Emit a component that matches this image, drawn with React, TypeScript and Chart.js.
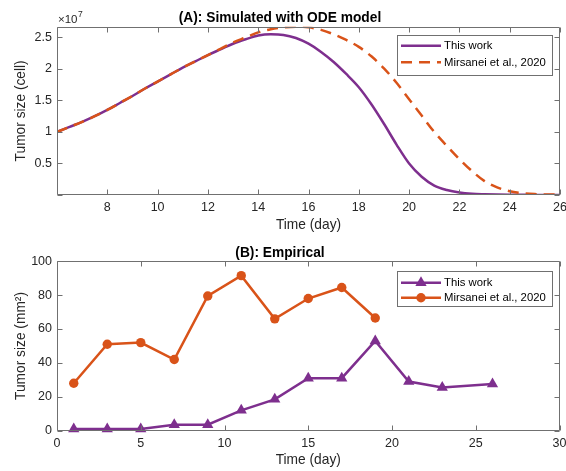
import React, { useEffect, useRef } from 'react';
import { Chart, registerables } from 'chart.js';

Chart.register(...registerables);

const FONT = "'Liberation Sans', Arial, Helvetica, sans-serif";
const PURPLE = '#7E2F8E';
const ORANGE = '#D95319';
const TEXT = '#262626';
const FRAME = '#707070';

// (A) simulated tumor size, in units of 10^7 cells
const simDays = [6, 6.5, 7, 7.5, 8, 8.5, 9, 9.5, 10, 10.5, 11, 11.5, 12, 12.5, 13, 13.5, 14, 14.5, 15, 15.5, 16, 16.5, 17, 17.5, 18, 18.5, 19, 19.5, 20, 20.5, 21, 21.5, 22, 22.5, 23, 23.5, 24, 24.5, 25, 25.5, 26];
const simThisWork = [1.00, 1.08, 1.16, 1.25, 1.35, 1.46, 1.57, 1.69, 1.80, 1.91, 2.02, 2.12, 2.22, 2.31, 2.40, 2.47, 2.53, 2.55, 2.54, 2.49, 2.40, 2.27, 2.11, 1.92, 1.71, 1.44, 1.13, 0.80, 0.50, 0.29, 0.15, 0.08, 0.04, 0.02, 0.012, 0.007, 0.004, 0.003, 0.002, 0.001, 0.001];
const simMirsanei = [1.00, 1.08, 1.16, 1.25, 1.35, 1.46, 1.57, 1.69, 1.80, 1.91, 2.02, 2.12, 2.22, 2.32, 2.42, 2.50, 2.58, 2.63, 2.66, 2.67, 2.66, 2.62, 2.55, 2.46, 2.35, 2.20, 2.01, 1.78, 1.52, 1.26, 1.00, 0.78, 0.57, 0.38, 0.22, 0.12, 0.06, 0.03, 0.015, 0.008, 0.005];

// (B) empirical tumor size, mm^2
const empDaysThisWork = [1, 3, 5, 7, 9, 11, 13, 15, 17, 19, 21, 23, 26];
const empThisWork = [1, 1, 1, 3.5, 3.5, 12, 18.5, 31, 31, 53, 29, 25.5, 27.5];
const empDaysMirsanei = [1, 3, 5, 7, 9, 11, 13, 15, 17, 19];
const empMirsanei = [28, 51, 52, 42, 79.5, 91.5, 66, 78, 84.5, 66.5];

const seriesLabels = ['This work', 'Mirsanei et al., 2020'];
const titleA = '(A): Simulated with ODE model';
const titleB = '(B): Empirical';
const xTitle = 'Time (day)';
const yTitleA = 'Tumor size (cell)';
const yTitleB = 'Tumor size (mm²)';

const toPoints = (xs: number[], ys: number[]) => xs.map((x, i) => ({ x, y: ys[i] }));

const matlabFrame = {
  id: 'matlabFrame',
  afterDatasetsDraw(chart: any, _args: any, opts: any) {
    const { ctx, chartArea: a, scales } = chart;
    ctx.save();
    ctx.strokeStyle = FRAME;
    ctx.lineWidth = 1;
    const L = Math.round(a.left) + 0.5;
    const R = Math.round(a.right) - 0.5;
    const T = Math.round(a.top) + 0.5;
    const B = Math.round(a.bottom) - 0.5;
    ctx.beginPath();
    ctx.rect(L, T, R - L, B - T);
    const len = 5;
    scales.x.ticks.forEach((t: any) => {
      const x = Math.round(scales.x.getPixelForValue(t.value)) + 0.5;
      ctx.moveTo(x, B); ctx.lineTo(x, B - len);
      ctx.moveTo(x, T); ctx.lineTo(x, T + len);
    });
    scales.y.ticks.forEach((t: any) => {
      const y = Math.round(scales.y.getPixelForValue(t.value)) + 0.5;
      ctx.moveTo(L, y); ctx.lineTo(L + len, y);
      ctx.moveTo(R, y); ctx.lineTo(R - len, y);
    });
    ctx.stroke();
    if (opts && opts.exponent) {
      ctx.fillStyle = TEXT;
      ctx.textBaseline = 'alphabetic';
      ctx.textAlign = 'left';
      ctx.font = `11.5px ${FONT}`;
      const bx = a.left + 1;
      const by = a.top - 3.5;
      ctx.fillText('×10', bx, by);
      const w = ctx.measureText('×10').width;
      ctx.font = `8.5px ${FONT}`;
      ctx.fillText(opts.exponent, bx + w + 0.5, by - 6);
    }
    ctx.restore();
  },
};

const matlabLegend = {
  id: 'matlabLegend',
  afterDraw(chart: any, _args: any, opts: any) {
    if (!opts || !opts.items) return;
    const { ctx, chartArea: a } = chart;
    const x = Math.round(a.right - opts.right - opts.width);
    const y = Math.round(a.top + opts.top);
    ctx.save();
    ctx.fillStyle = '#ffffff';
    ctx.fillRect(x, y, opts.width, opts.height);
    ctx.strokeStyle = FRAME;
    ctx.lineWidth = 1;
    ctx.strokeRect(x + 0.5, y + 0.5, opts.width, opts.height);
    opts.items.forEach((dsIndex: number, i: number) => {
      const ds = chart.data.datasets[dsIndex];
      const ry = y + opts.rows[i];
      ctx.strokeStyle = ds.borderColor;
      ctx.lineWidth = ds.borderWidth;
      ctx.setLineDash(ds.borderDash || []);
      ctx.beginPath();
      ctx.moveTo(x + 4, ry);
      ctx.lineTo(x + 44, ry);
      ctx.stroke();
      ctx.setLineDash([]);
      if (ds.pointRadius > 0) {
        const cx = x + 24;
        const r = ds.pointRadius;
        ctx.fillStyle = ds.pointBackgroundColor;
        ctx.beginPath();
        if (ds.pointStyle === 'triangle') {
          ctx.moveTo(cx, ry - r);
          ctx.lineTo(cx + r * 0.866, ry + r * 0.5);
          ctx.lineTo(cx - r * 0.866, ry + r * 0.5);
          ctx.closePath();
        } else {
          ctx.arc(cx, ry, r, 0, Math.PI * 2);
        }
        ctx.fill();
      }
      ctx.fillStyle = '#000000';
      ctx.font = `11.3px ${FONT}`;
      ctx.textBaseline = 'middle';
      ctx.textAlign = 'left';
      ctx.fillText(ds.label, x + 47, ry + 0.5);
    });
    ctx.restore();
  },
};

function baseOptions(opts: {
  title: string; titlePad: { top: number; bottom: number };
  xmin: number; xmax: number; xstep: number; hideX?: number;
  ymin: number; ymax: number; ystep: number; hideY?: number;
  yTitle: string; xAxisHeight: number;
}) {
  const tickFont = { family: FONT, size: 12.5 };
  return {
    responsive: false,
    animation: false,
    events: [],
    layout: { padding: { left: 0, right: 6, top: 0, bottom: 0 } },
    plugins: {
      legend: { display: false },
      tooltip: { enabled: false },
      title: {
        display: true,
        text: opts.title,
        color: '#000000',
        font: { family: FONT, size: 13.75, weight: 'bold' },
        padding: opts.titlePad,
      },
    },
    scales: {
      x: {
        type: 'linear',
        min: opts.xmin,
        max: opts.xmax,
        grid: { display: false, drawTicks: false },
        border: { display: false },
        ticks: {
          stepSize: opts.xstep,
          includeBounds: false,
          autoSkip: false,
          maxRotation: 0,
          padding: 5,
          color: TEXT,
          font: tickFont,
          callback: (v: number) => (opts.hideX !== undefined && v === opts.hideX ? '' : String(v)),
        },
        title: {
          display: true,
          text: xTitle,
          color: TEXT,
          font: { family: FONT, size: 13.75 },
          padding: { top: 0, bottom: 2.75 },
        },
        afterFit: (s: any) => {
          s.height = opts.xAxisHeight;
          s.paddingLeft = 0;
          s.paddingRight = 0;
        },
      },
      y: {
        type: 'linear',
        min: opts.ymin,
        max: opts.ymax,
        grid: { display: false, drawTicks: false },
        border: { display: false },
        ticks: {
          stepSize: opts.ystep,
          includeBounds: false,
          autoSkip: false,
          padding: 5,
          color: TEXT,
          font: tickFont,
          callback: (v: number) => (opts.hideY !== undefined && v === opts.hideY ? '' : String(Math.round(v * 100) / 100)),
        },
        title: {
          display: true,
          text: opts.yTitle,
          color: TEXT,
          font: { family: FONT, size: 13.75 },
          padding: { top: 12.75, bottom: 0 },
        },
        afterFit: (s: any) => { s.width = 57; },
      },
    },
  };
}

export default function App() {
  const topRef = useRef<HTMLCanvasElement | null>(null);
  const botRef = useRef<HTMLCanvasElement | null>(null);

  useEffect(() => {
    if (!topRef.current || !botRef.current) return;
    const topOpts: any = baseOptions({
      title: titleA,
      titlePad: { top: 9.75, bottom: 0.45 },
      xmin: 6, xmax: 26, xstep: 2, hideX: 6,
      ymin: 0, ymax: 2.67, ystep: 0.5, hideY: 0,
      yTitle: yTitleA, xAxisHeight: 41,
    });
    topOpts.plugins.matlabFrame = { exponent: '7' };
    topOpts.plugins.matlabLegend = { items: [0, 1], right: 8, top: 8.3, width: 155, height: 40, rows: [10.7, 27.3] };

    const top = new Chart(topRef.current, {
      type: 'line',
      data: {
        datasets: [
          {
            label: seriesLabels[0],
            data: toPoints(simDays, simThisWork),
            borderColor: PURPLE,
            backgroundColor: PURPLE,
            borderWidth: 2.5,
            pointRadius: 0,
            cubicInterpolationMode: 'monotone',
            order: 1,
          },
          {
            label: seriesLabels[1],
            data: toPoints(simDays, simMirsanei),
            borderColor: ORANGE,
            backgroundColor: ORANGE,
            borderWidth: 2.5,
            borderDash: [11, 7],
            pointRadius: 0,
            cubicInterpolationMode: 'monotone',
            order: 0,
          },
        ],
      },
      options: topOpts,
      plugins: [matlabFrame, matlabLegend],
    } as any);

    const botOpts: any = baseOptions({
      title: titleB,
      titlePad: { top: 8.75, bottom: 0 },
      xmin: 0, xmax: 30, xstep: 5,
      ymin: 0, ymax: 100, ystep: 20,
      yTitle: yTitleB, xAxisHeight: 40.3,
    });
    botOpts.plugins.matlabFrame = {};
    botOpts.plugins.matlabLegend = { items: [0, 1], right: 8, top: 9.3, width: 155, height: 35, rows: [11.7, 26.7] };

    const bot = new Chart(botRef.current, {
      type: 'line',
      data: {
        datasets: [
          {
            label: seriesLabels[0],
            data: toPoints(empDaysThisWork, empThisWork),
            borderColor: PURPLE,
            backgroundColor: PURPLE,
            pointBackgroundColor: PURPLE,
            pointBorderColor: PURPLE,
            borderWidth: 2.5,
            pointStyle: 'triangle',
            pointRadius: 6.5,
            pointBorderWidth: 0,
            tension: 0,
            order: 0,
            clip: false,
          },
          {
            label: seriesLabels[1],
            data: toPoints(empDaysMirsanei, empMirsanei),
            borderColor: ORANGE,
            backgroundColor: ORANGE,
            pointBackgroundColor: ORANGE,
            pointBorderColor: ORANGE,
            borderWidth: 2.5,
            pointStyle: 'circle',
            pointRadius: 4.7,
            pointBorderWidth: 0,
            tension: 0,
            order: 1,
            clip: false,
          },
        ],
      },
      options: botOpts,
      plugins: [matlabFrame, matlabLegend],
    } as any);

    return () => {
      top.destroy();
      bot.destroy();
    };
  }, []);

  return (
    <div style={{ position: 'absolute', left: 0, top: 0, width: 566, height: 471, background: '#ffffff' }}>
      <canvas ref={topRef} width={566} height={236} style={{ display: 'block', width: 566, height: 236 }} />
      <canvas ref={botRef} width={566} height={235} style={{ display: 'block', width: 566, height: 235 }} />
    </div>
  );
}
